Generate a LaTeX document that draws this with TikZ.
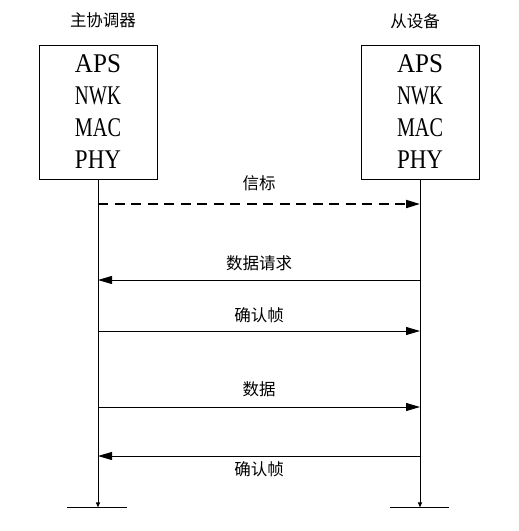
\documentclass[tikz,border=0pt]{standalone}
\usepackage{fontspec}
\setmainfont{Liberation Serif}
\newfontfamily\cjk{Noto Sans CJK SC}
\usepackage{graphicx}
\usepackage{xcolor}
\usepackage{tikz}
\usetikzlibrary{arrows.meta,positioning}
\definecolor{ink}{HTML}{000000}
% narrow half-width look of the layer names
\newcommand{\fitw}[1]{\resizebox{46pt}{\height}{#1}}
\tikzset{
  layer/.style={draw=ink, line width=0.9pt, minimum width=118pt, minimum height=134pt,
    inner sep=0pt, align=center, font=\fontsize{27}{32}\selectfont},
  life/.style={draw=ink, line width=0.9pt, -{Triangle[length=5pt,width=4pt]}},
  msg/.style={draw=ink, line width=0.9pt, -{Triangle[length=14pt,width=8pt]}},
  bcn/.style={msg, line width=2pt, dash pattern=on 10pt off 6.5pt},
  ground/.style={draw=ink, line width=0.9pt},
  lab/.style={text=ink, inner sep=0pt, font=\cjk\fontsize{16.5}{16.5}\selectfont},
}

\begin{document}
\begin{tikzpicture}[x=1pt,y=-1pt]
  \useasboundingbox (0,0) rectangle (519,531);

  % protocol stacks
  \node[layer] (coord) at (98,112) {\fitw{APS}\\\fitw{NWK}\\\fitw{MAC}\\\fitw{PHY}};
  \node[layer] (dev) at (420,112) {\fitw{APS}\\\fitw{NWK}\\\fitw{MAC}\\\fitw{PHY}};
  \node[lab] (coordname) at (103,20) {主协调器};
  \node[lab] (devname) at (415,21) {从设备};

  % lifelines
  \path (coord.south) ++(0,328) coordinate (Lend);
  \path (dev.south) ++(0,328) coordinate (Rend);
  \draw[life] (coord.south) -- (Lend);
  \draw[life] (dev.south) -- (Rend);
  \draw[ground] ([xshift=-31pt]Lend) -- ([xshift=29pt]Lend);
  \draw[ground] ([xshift=-30pt]Rend) -- ([xshift=29pt]Rend);

  % message points
  \foreach \i/\y in {1/204,2/280,3/331,4/407,5/456}{
    \coordinate (L\i) at (coord.south |- 0,\y);
    \coordinate (R\i) at (dev.south |- 0,\y);
  }

  \draw[bcn] (L1) -- (R1);
  \draw[msg] (R2) -- (L2);
  \draw[msg] (L3) -- (R3);
  \draw[msg] (L4) -- (R4);
  \draw[msg] (R5) -- (L5);

  \node[lab] (beacon) at (259,183) {信标};
  \node[lab] (dreq) at (259,263) {数据请求};
  \node[lab] (ack1) at (259,315) {确认帧};
  \node[lab] (data) at (259,389) {数据};
  \node[lab] (ack2) at (259,469) {确认帧};
\end{tikzpicture}
\end{document}
